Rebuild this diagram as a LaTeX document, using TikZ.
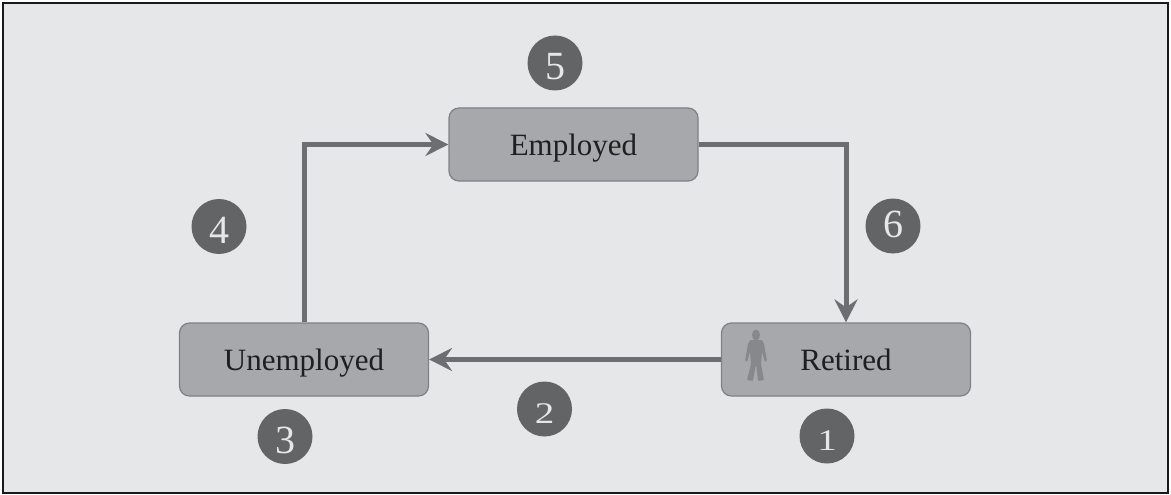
\documentclass[tikz,border=0pt]{standalone}
\usepackage{fontspec}
\usepackage{graphicx}
\setmainfont{Liberation Serif}
\usetikzlibrary{arrows.meta}
\definecolor{bgc}{HTML}{E6E7E9}
\definecolor{boxc}{HTML}{A7A8AB}
\definecolor{boxl}{HTML}{808184}
\definecolor{linec}{HTML}{6D6E71}
\definecolor{circc}{HTML}{636466}
\definecolor{figc}{HTML}{87888B}
\newcommand{\tallnum}[2]{\raisebox{#1}{\fontsize{40}{42}\selectfont #2}}
\newcommand{\lownum}[2]{\raisebox{#1}{\scalebox{1.3}[1]{\fontsize{30}{32}\selectfont #2}}}
\tikzset{
  statebox/.style={draw=boxl,line width=1.2pt,fill=boxc,rounded corners=10pt,minimum width=249pt,minimum height=73pt,inner sep=0pt,font=\fontsize{31}{34}\selectfont,text=black!88,text height=23pt,text depth=2pt},
  badge/.style={circle,fill=circc,minimum size=55pt,inner sep=0pt,text=bgc,text height=20pt,text depth=0pt},
  flow/.style={draw=linec,line width=5pt,-{Stealth[length=23pt,width=23pt,inset=8pt]},line join=miter}
}
\begin{document}
\begin{tikzpicture}[x=1pt,y=-1pt]
\useasboundingbox (0,0) rectangle (1171,495);
\draw[fill=bgc,draw=black!90,line width=2.5pt] (3,3) rectangle (1168,493);
\node[statebox] (em) at (573.5,144.5) {Employed};
\node[statebox] (re) at (846,359.5) {Retired};
\node[statebox] (un) at (304,359.5) {Unemployed};
\node[badge] (b5) at (555,63) {\tallnum{-7pt}{5}};
\node[badge] (b6) at (893,226) {\tallnum{-1pt}{6}};
\node[badge] (b4) at (219,226.5) {\tallnum{-7pt}{4}};
\node[badge] (b3) at (285,436.5) {\tallnum{-6.5pt}{3}};
\node[badge] (b2) at (544.5,409) {\lownum{-4pt}{2}};
\node[badge] (b1) at (827,436) {\lownum{-4pt}{1}};
\draw[flow] (un.north) |- (em.west);
\draw[flow] (em.east) -| (re.north);
\draw[flow] (re.west) -- (un.east);
\fill[figc] (756,335) ellipse (4pt and 5.5pt);
\fill[figc,rounded corners=1pt] (750,340) -- (762,340) -- (764,344) -- (767,361) -- (765,362) -- (762,352) -- (761,364) -- (764,380) -- (758,381) -- (756.5,366) -- (755.5,366) -- (753,381) -- (747,380) -- (751,364) -- (750,352) -- (747,362) -- (745,361) -- (748,344) -- cycle;
\end{tikzpicture}
\end{document}
